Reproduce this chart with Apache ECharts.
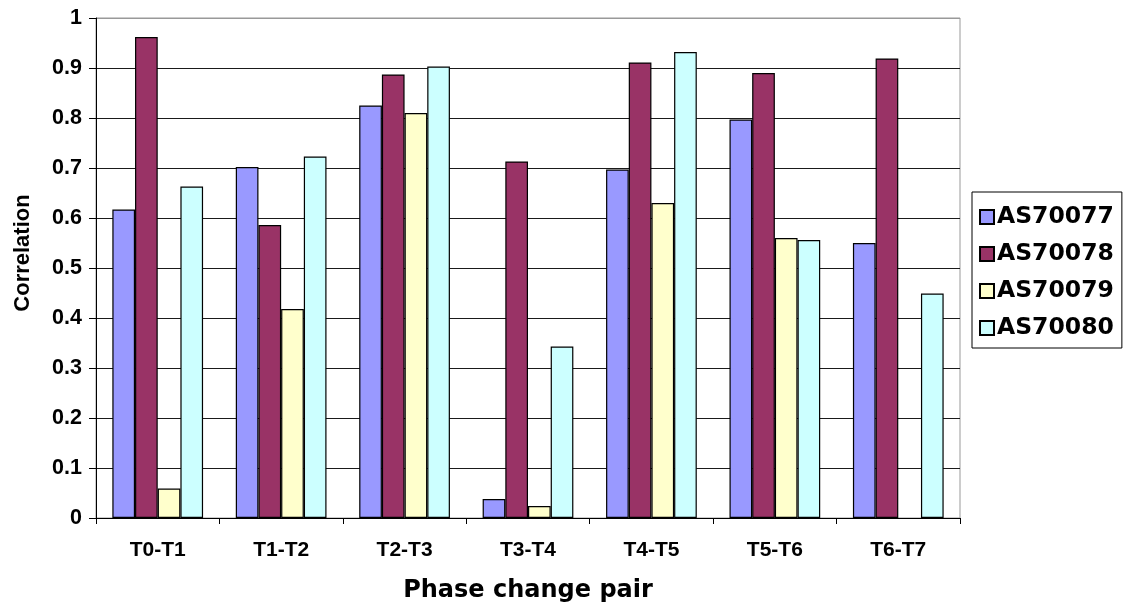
<!DOCTYPE html>
<html>
<head>
<meta charset="utf-8">
<script src="https://cdn.jsdelivr.net/npm/echarts@6/dist/echarts.min.js"></script>
<style>
html,body{margin:0;padding:0;background:#fff;}
#chart{width:1130px;height:609px;}
</style>
</head>
<body>
<div id="chart"></div>
<script>
const categories = ['T0-T1', 'T1-T2', 'T2-T3', 'T3-T4', 'T4-T5', 'T5-T6', 'T6-T7'];
const seriesNames = ['AS70077', 'AS70078', 'AS70079', 'AS70080'];
const as70077 = [0.617, 0.702, 0.825, 0.038, 0.697, 0.797, 0.550];
const as70078 = [0.962, 0.586, 0.887, 0.713, 0.911, 0.890, 0.919];
const as70079 = [0.059, 0.418, 0.810, 0.024, 0.630, 0.560, null];
const as70080 = [0.663, 0.723, 0.903, 0.343, 0.932, 0.556, 0.449];
const colors = ['#9999FF', '#993366', '#FFFFCC', '#CCFFFF'];
const yTickLabels = ['0', '0.1', '0.2', '0.3', '0.4', '0.5', '0.6', '0.7', '0.8', '0.9', '1'];

const allData = [as70077, as70078, as70079, as70080];
const chart = echarts.init(document.getElementById('chart'), null, {renderer: 'canvas'});
const splitColors = yTickLabels.map((t, i) => i === yTickLabels.length - 1 ? '#999999' : '#1a1a1a');

const option = {
  backgroundColor: '#ffffff',
  animation: false,
  textStyle: {fontFamily: 'Liberation Sans, Arial, sans-serif'},
  grid: {
    left: 96, right: 170, top: 18, bottom: 91,
    show: true, borderColor: '#999999', borderWidth: 1, backgroundColor: 'transparent'
  },
  legend: {
    orient: 'vertical',
    left: 972, top: 192,
    padding: [13, 8, 8, 7],
    itemWidth: 14, itemHeight: 14, itemGap: 13,
    borderColor: '#000', borderWidth: 1,
    icon: 'rect',
    data: seriesNames,
    textStyle: {fontFamily: 'DejaVu Sans', fontWeight: 'bold', fontSize: 23.5, color: '#000', lineHeight: 23, padding: [0,0,0,-2]}
  },
  xAxis: {
    type: 'category',
    data: categories,
    name: 'Phase change pair',
    nameLocation: 'middle',
    nameGap: 61,
    nameTextStyle: {fontFamily: 'DejaVu Sans', fontWeight: 'bold', fontSize: 24, color: '#000'},
    axisLine: {lineStyle: {color: '#000', width: 1}},
    axisTick: {show: true, alignWithLabel: false, length: 6, lineStyle: {color: '#000'}},
    axisLabel: {margin: 22, fontFamily: 'Liberation Sans', fontWeight: 'bold', fontSize: 21, color: '#000'},
    splitLine: {show: false}
  },
  yAxis: {
    type: 'value',
    min: 0, max: 1, interval: 0.1,
    name: 'Correlation',
    nameLocation: 'middle',
    nameRotate: 90,
    nameGap: 62,
    nameTextStyle: {fontFamily: 'Liberation Sans', fontWeight: 'bold', fontSize: 22, color: '#000', padding: [0, 0, 0, 30]},
    axisLine: {show: true, lineStyle: {color: '#000', width: 1}},
    axisTick: {show: true, length: 7, lineStyle: {color: '#000'}},
    axisLabel: {
      margin: 14, fontFamily: 'Liberation Sans', fontWeight: 'bold', fontSize: 21.5, color: '#000',
      formatter: (v) => yTickLabels[Math.round(v * 10)]
    },
    splitLine: {show: true, lineStyle: {color: splitColors, width: 1}}
  },
  series: seriesNames.map((name, i) => ({
    name: name,
    type: 'bar',
    data: allData[i],
    barGap: '0%',
    barCategoryGap: '26.5%',
    itemStyle: {color: colors[i], borderColor: '#000', borderWidth: 1.2}
  }))
};
chart.setOption(option);
</script>
</body>
</html>
